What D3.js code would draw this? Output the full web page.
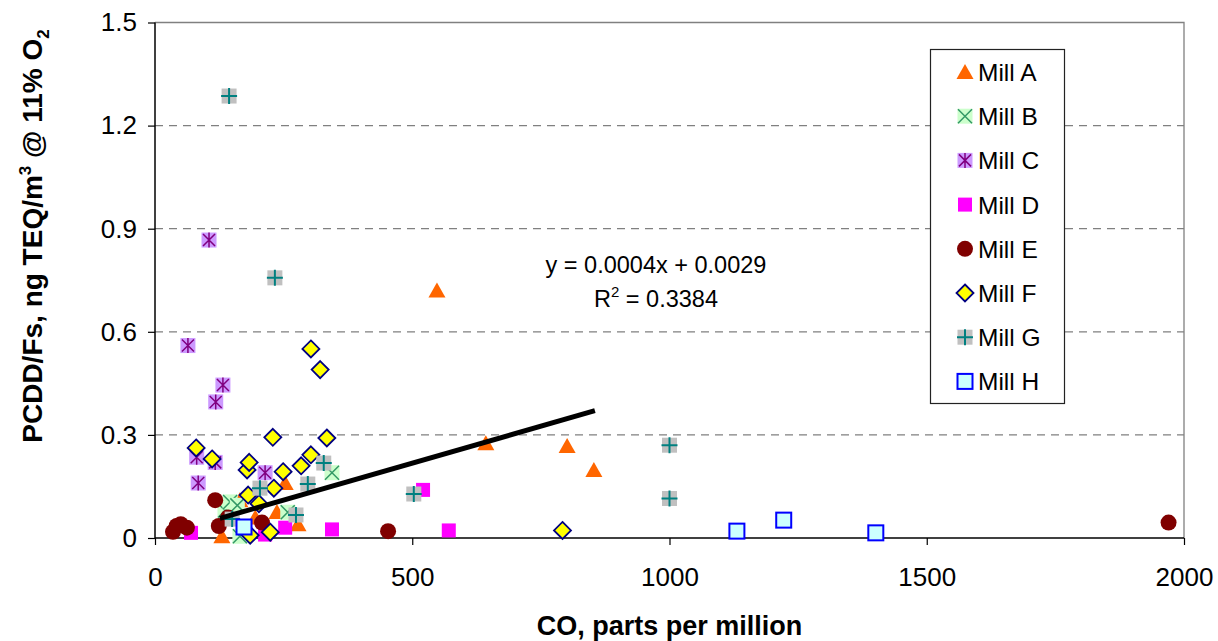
<!DOCTYPE html>
<html>
<head>
<meta charset="utf-8">
<script src="https://cdn.jsdelivr.net/npm/d3@7/dist/d3.min.js"></script>
<style>
  html, body { margin: 0; padding: 0; background: #fff; }
  svg { display: block; font-family: Arial, "Liberation Sans", sans-serif; }
</style>
</head>
<body>
<svg id="chart" width="1218" height="641"></svg>
<script>
// CO (ppm) vs PCDD/F emissions, one array of [CO, TEQ] pairs per mill
const millA = [[130, 0.005], [165, 0.11], [195, 0.06], [237, 0.076], [253, 0.16], [278, 0.04],
               [548, 0.72], [643, 0.276], [801, 0.268], [853, 0.198]];
const millB = [[136, 0.08], [146, 0.105], [160, 0.095], [165, 0.005], [258, 0.075], [344, 0.19]];
const millC = [[64, 0.56], [81, 0.235], [84, 0.16], [105, 0.867], [117, 0.22], [118, 0.396],
               [132, 0.445], [214, 0.19]];
const millD = [[70, 0.015], [214, 0.01], [253, 0.03], [344, 0.025], [521, 0.14], [571, 0.022]];
const millE = [[35, 0.018], [42, 0.035], [50, 0.04], [62, 0.03], [117, 0.11], [124, 0.035],
               [142, 0.06], [208, 0.045], [453, 0.02], [1970, 0.045]];
const millF = [[80, 0.262], [111, 0.23], [179, 0.198], [181, 0.125], [183, 0.22], [185, 0.008],
               [202, 0.1], [224, 0.017], [229, 0.293], [231, 0.145], [249, 0.193], [284, 0.21],
               [303, 0.242], [303, 0.55], [321, 0.49], [334, 0.291], [792, 0.022]];
const millG = [[144, 1.286], [150, 0.055], [204, 0.145], [233, 0.757], [274, 0.067], [297, 0.157],
               [328, 0.218], [503, 0.128], [1000, 0.27], [1000, 0.115]];
const millH = [[173, 0.032], [1131, 0.02], [1222, 0.052], [1401, 0.015]];

const seriesNames = ["Mill A", "Mill B", "Mill C", "Mill D", "Mill E", "Mill F", "Mill G", "Mill H"];
const seriesData = [millA, millB, millC, millD, millE, millF, millG, millH];

// Linear trend
const trendSlope = 0.00043;
const trendIntercept = 0.0029;
const trendRange = [126, 855];
const trendR2 = 0.3384;

const xTicks = [0, 500, 1000, 1500, 2000];
const yTicks = [0, 0.3, 0.6, 0.9, 1.2, 1.5];

const svg = d3.select("#chart");
const plotLeft = 155, plotRight = 1184, plotTop = 22.5, plotBottom = 538;

const x = d3.scaleLinear().domain([0, 2000]).range([plotLeft, plotRight]);
const y = d3.scaleLinear().domain([0, 1.5]).range([plotBottom, plotTop]);

// gridlines
svg.append("g").selectAll("line")
  .data(yTicks.filter(t => t > 0 && t < 1.5))
  .join("line")
  .attr("x1", plotLeft).attr("x2", plotRight)
  .attr("y1", d => y(d)).attr("y2", d => y(d))
  .attr("stroke", "#808080").attr("stroke-width", 1.3)
  .attr("stroke-dasharray", "8,6");

// plot frame (top and right)
svg.append("path")
  .attr("d", `M${plotLeft},${y(1.5)}H${plotRight}V${plotBottom}`)
  .attr("fill", "none").attr("stroke", "#808080").attr("stroke-width", 1.3);

// axes
const xAxis = d3.axisBottom(x).tickValues(xTicks).tickSize(7).tickPadding(23).tickFormat(d3.format("d"));
const yAxis = d3.axisLeft(y).tickValues(yTicks).tickSize(7).tickPadding(11)
  .tickFormat(d => d === 0 ? "0" : d3.format(".1f")(d));

const gx = svg.append("g").attr("transform", `translate(0,${plotBottom})`).call(xAxis);
const gy = svg.append("g").attr("transform", `translate(${plotLeft},0)`).call(yAxis);
[gx, gy].forEach(g => {
  g.select(".domain").attr("stroke", "#000").attr("stroke-width", 1.5);
  g.selectAll(".tick line").attr("stroke", "#000").attr("stroke-width", 1.2);
  g.selectAll(".tick text").attr("fill", "#000").style("font-size", "26px")
    .style("font-family", "Arial, 'Liberation Sans', sans-serif");
});
gx.select(".domain").attr("d", `M${plotLeft},0H${plotRight}`);
gy.select(".domain").attr("d", `M0,${plotBottom}V${y(1.5)}`);

// marker renderers
function drawMarker(g, i) {
  switch (i) {
    case 0: // triangle
      g.append("path").attr("d", "M0,-8L8.5,7L-8.5,7Z").attr("fill", "#FF6600");
      break;
    case 1: // x on pale green
      g.append("rect").attr("x", -7.5).attr("y", -7.5).attr("width", 15).attr("height", 15).attr("fill", "#CCFFCC");
      g.append("path").attr("d", "M-7,-7L7,7M-7,7L7,-7").attr("stroke", "#339966").attr("stroke-width", 1.5);
      break;
    case 2: // asterisk on lavender
      g.append("rect").attr("x", -7.5).attr("y", -7.5).attr("width", 15).attr("height", 15).attr("fill", "#CC99FF");
      g.append("path").attr("d", "M-6,-6L6,6M-6,6L6,-6M0,-7.5V7.5").attr("stroke", "#800080").attr("stroke-width", 1.5);
      break;
    case 3: // magenta square
      g.append("rect").attr("x", -7).attr("y", -7).attr("width", 14).attr("height", 14).attr("fill", "#FF00FF");
      break;
    case 4: // dark red circle
      g.append("circle").attr("r", 8).attr("fill", "#800000");
      break;
    case 5: // yellow diamond
      g.append("path").attr("d", "M0,-8.5L8.5,0L0,8.5L-8.5,0Z").attr("fill", "#FFFF00")
        .attr("stroke", "#000080").attr("stroke-width", 1.8);
      break;
    case 6: // plus on grey
      g.append("rect").attr("x", -7.5).attr("y", -7.5).attr("width", 15).attr("height", 15).attr("fill", "#C0C0C0");
      g.append("path").attr("d", "M-8,0H8M0,-8V8").attr("stroke", "#008080").attr("stroke-width", 2);
      break;
    case 7: // open square
      g.append("rect").attr("x", -7.5).attr("y", -7.5).attr("width", 15).attr("height", 15).attr("fill", "#CCFFFF")
        .attr("stroke", "#0000FF").attr("stroke-width", 2);
      break;
  }
}

// points, series in order so later mills sit on top
seriesData.forEach((pts, i) => {
  const g = svg.append("g");
  pts.forEach(p => {
    const m = g.append("g").attr("transform", `translate(${x(p[0])},${y(p[1])})`);
    drawMarker(m, i);
  });
});

// trend line
svg.append("line")
  .attr("x1", x(trendRange[0])).attr("y1", y(trendSlope * trendRange[0] + trendIntercept))
  .attr("x2", x(trendRange[1])).attr("y2", y(trendSlope * trendRange[1] + trendIntercept))
  .attr("stroke", "#000").attr("stroke-width", 5);

// trend equation
svg.append("text").attr("x", 656).attr("y", 273).attr("text-anchor", "middle")
  .style("font-size", "23.5px").attr("fill", "#000")
  .text(`y = ${trendSlope.toFixed(4)}x + ${trendIntercept.toFixed(4)}`);
const r2 = svg.append("text").attr("x", 656).attr("y", 307).attr("text-anchor", "middle")
  .style("font-size", "23.5px").attr("fill", "#000");
r2.append("tspan").text("R");
r2.append("tspan").attr("dy", -10).style("font-size", "15px").text("2");
r2.append("tspan").attr("dy", 10).text(` = ${trendR2.toFixed(4)}`);

// legend
const lg = svg.append("g");
lg.append("rect").attr("x", 930.5).attr("y", 49.5).attr("width", 134).attr("height", 354)
  .attr("fill", "#fff").attr("stroke", "#222").attr("stroke-width", 1.2);
seriesNames.forEach((name, i) => {
  const cy = 72 + i * 44.2;
  const m = lg.append("g").attr("transform", `translate(965,${cy})`);
  drawMarker(m, i);
  lg.append("text").attr("x", 978).attr("y", cy + 9).style("font-size", "24.5px").attr("fill", "#000").text(name);
});

// axis titles
svg.append("text").attr("x", (plotLeft + plotRight) / 2).attr("y", 635).attr("text-anchor", "middle")
  .style("font-size", "27px").style("font-weight", "bold").attr("fill", "#000")
  .text("CO, parts per million");

const yt = svg.append("text").attr("transform", `translate(42,236) rotate(-90)`).attr("text-anchor", "middle")
  .style("font-size", "28px").style("font-weight", "bold").attr("fill", "#000");
yt.append("tspan").text("PCDD/Fs, ng TEQ/m");
yt.append("tspan").attr("dy", -11).style("font-size", "17px").text("3");
yt.append("tspan").attr("dy", 11).text(" @ 11% O");
yt.append("tspan").attr("dy", 7).style("font-size", "17px").text("2");
</script>
</body>
</html>
